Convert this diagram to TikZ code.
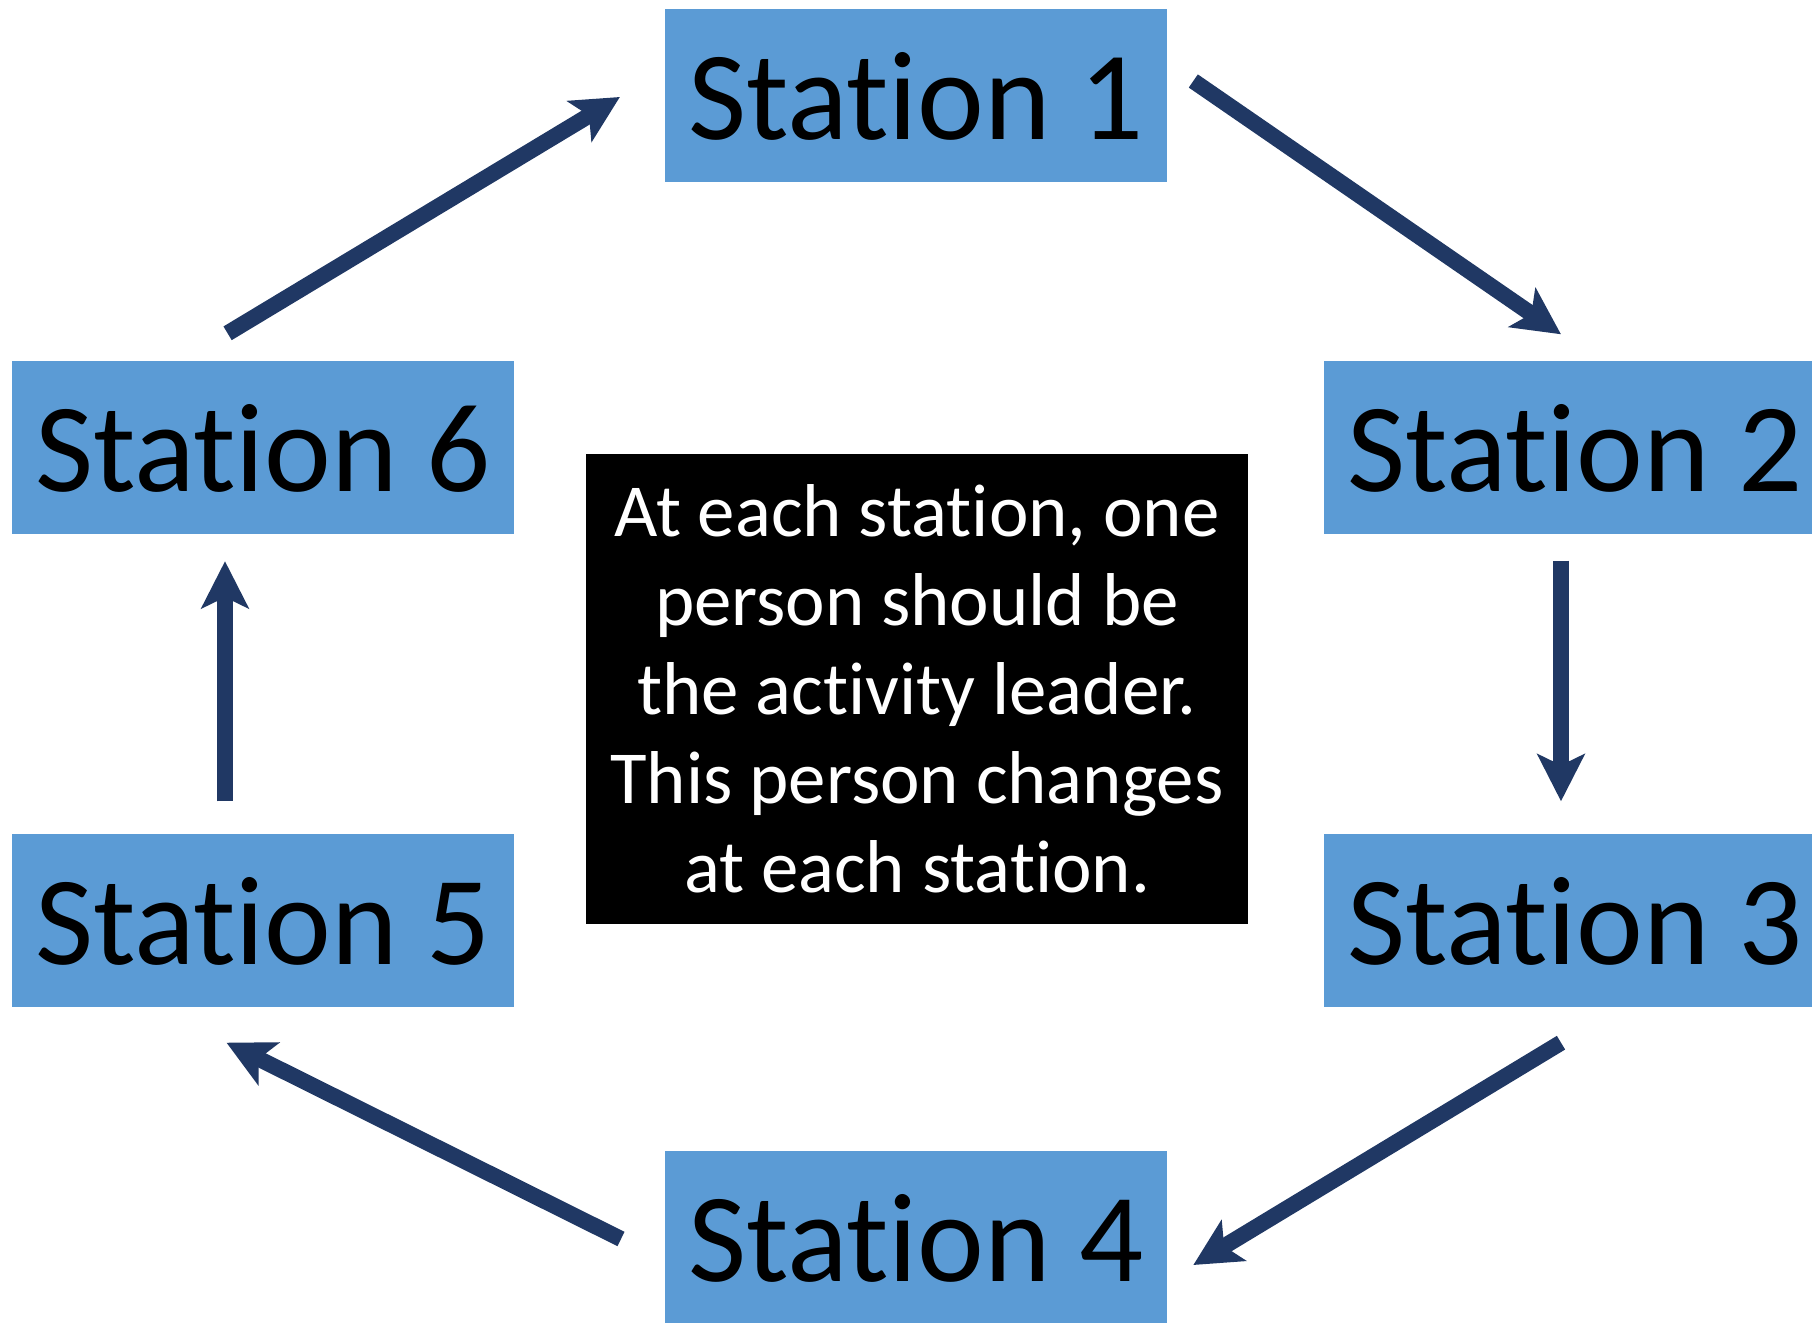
\documentclass[tikz,border=0pt]{standalone}
\usepackage{fontspec}
\setmainfont{Carlito}[Ligatures=NoCommon]
\usetikzlibrary{arrows.meta}
\definecolor{stationblue}{HTML}{5B9BD5}
\definecolor{arrownavy}{HTML}{203864}

\begin{document}
\begin{tikzpicture}[
  station/.style={fill=stationblue, minimum width=5.02cm, minimum height=1.73cm,
    inner sep=0pt, font=\fontsize{36}{43}\selectfont},
  flow/.style={arrownavy, line width=1.6mm,
    -{Stealth[length=4.7mm,width=4.7mm,inset=1.1mm]}}
]
  \useasboundingbox (0,0) rectangle (18.12,-13.23);

  % Stations placed round the loop
  \node[station] (s1) at (9.16,-0.96)  {Station 1};
  \node[station] (s2) at (15.75,-4.48) {Station 2};
  \node[station] (s3) at (15.75,-9.21) {Station 3};
  \node[station] (s4) at (9.16,-12.38) {Station 4};
  \node[station] (s5) at (2.63,-9.21)  {Station 5};
  \node[station] (s6) at (2.63,-4.48)  {Station 6};

  % Note in the middle
  \node[fill=black, text=white, minimum width=6.62cm, minimum height=4.70cm,
    inner sep=0pt, align=center, font=\fontsize{21.3}{25.3}\selectfont] (note)
    at (9.17,-6.89) {At each station, one\\person should be\\the activity leader.\\This person changes\\at each station.};

  % Arrow ends beside the stations
  \coordinate (out1) at ([xshift=2.56mm,yshift=1.5mm]s1.east);
  \coordinate (in2)  at ([xshift=-1.4mm,yshift=2.65mm]s2.north);
  \coordinate (out2) at ([xshift=-1.4mm,yshift=-2.55mm]s2.south);
  \coordinate (in3)  at ([xshift=-1.4mm,yshift=3.25mm]s3.north);
  \coordinate (out3) at ([xshift=-1.4mm,yshift=-3.45mm]s3.south);
  \coordinate (in4)  at ([xshift=2.56mm,yshift=-2.7mm]s4.east);
  \coordinate (out4) at ([xshift=-4.33mm,yshift=-0.1mm]s4.west);
  \coordinate (in5)  at ([xshift=-3.65mm,yshift=-3.45mm]s5.south);
  \coordinate (out5) at ([xshift=-3.8mm,yshift=3.25mm]s5.north);
  \coordinate (in6)  at ([xshift=-3.8mm,yshift=-2.6mm]s6.south);
  \coordinate (out6) at ([xshift=-3.54mm,yshift=2.75mm]s6.north);
  \coordinate (in1)  at ([xshift=-4.44mm,yshift=-0.1mm]s1.west);

  % Arrows from one station to the next
  \draw[flow] (out1) -- (in2);
  \draw[flow] (out2) -- (in3);
  \draw[flow] (out3) -- (in4);
  \draw[flow] (out4) -- (in5);
  \draw[flow] (out5) -- (in6);
  \draw[flow] (out6) -- (in1);
\end{tikzpicture}
\end{document}
